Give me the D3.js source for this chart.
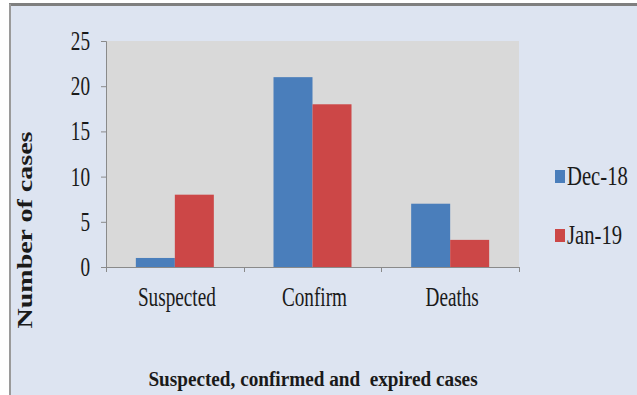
<!DOCTYPE html>
<html>
<head>
<meta charset="utf-8">
<script src="https://cdn.jsdelivr.net/npm/d3@7"></script>
<style>
  html, body { margin: 0; padding: 0; background: #ffffff; }
  svg { display: block; }
  text { font-family: "Liberation Serif", "Times New Roman", serif; fill: #1a1a1a; }
</style>
</head>
<body>
<svg id="chart" width="637" height="395"></svg>
<script>
// Case counts per category for the two months
const categories = ["Suspected", "Confirm", "Deaths"];
const seriesNames = ["Dec-18", "Jan-19"];
const dec18 = [1, 21, 7];
const jan19 = [8, 18, 3];
const yTicks = [0, 5, 10, 15, 20, 25];
const seriesColors = ["#4a7ebb", "#cc4747"];

const svg = d3.select("#chart");
const W = 637, H = 395;

// Chart frame: light panel with a dark top rule and a grey left rule
svg.append("rect").attr("x", 10).attr("y", 4).attr("width", W - 10).attr("height", H - 4)
  .attr("fill", "#dde4f1");
svg.append("line").attr("x1", 9).attr("x2", W).attr("y1", 4.5).attr("y2", 4.5)
  .attr("stroke", "#7f7f7f").attr("stroke-width", 3);
svg.append("line").attr("x1", 10).attr("x2", 10).attr("y1", 4).attr("y2", H)
  .attr("stroke", "#9a9a9a").attr("stroke-width", 2);

const plot = { left: 106, right: 519, top: 41, bottom: 267 };

const x0 = d3.scaleBand().domain(categories).range([plot.left, plot.right]).padding(0);
const x1 = d3.scaleBand().domain(seriesNames).range([0, x0.bandwidth()])
  .paddingInner(0).paddingOuter(0.765);
const y = d3.scaleLinear().domain([0, 25]).range([plot.bottom, plot.top]);

// Plot area
svg.append("rect").attr("x", plot.left).attr("y", plot.top)
  .attr("width", plot.right - plot.left).attr("height", plot.bottom - plot.top)
  .attr("fill", "#d9d9d9");

// Bars
const rows = categories.map((c, i) => ({ cat: c, vals: [dec18[i], jan19[i]] }));
const groups = svg.append("g").selectAll("g").data(rows).join("g")
  .attr("transform", d => `translate(${x0(d.cat)},0)`);
groups.selectAll("rect")
  .data(d => d.vals.map((v, k) => ({ name: seriesNames[k], v, k })))
  .join("rect")
  .attr("x", d => x1(d.name))
  .attr("width", x1.bandwidth())
  .attr("y", d => y(d.v))
  .attr("height", d => y(0) - y(d.v))
  .attr("fill", d => seriesColors[d.k]);

const axisColor = "#8a8a8a";

// Y axis
const yAxis = svg.append("g").attr("transform", `translate(${plot.left},0)`)
  .call(d3.axisLeft(y).tickValues(yTicks).tickSize(5).tickFormat(""));
yAxis.select(".domain").attr("stroke", axisColor);
yAxis.selectAll(".tick line").attr("stroke", axisColor);

const tickFont = 26.5, tickSqueeze = 0.725;
svg.append("g").selectAll("text").data(yTicks).join("text")
  .attr("transform", d => `translate(90,${y(d) + 9}) scale(${tickSqueeze},1)`)
  .attr("text-anchor", "end")
  .style("font-size", tickFont + "px")
  .text(d => d);

// X axis
const xAxis = svg.append("g").attr("transform", `translate(0,${plot.bottom})`)
  .call(d3.axisBottom(x0).tickSize(0).tickFormat(""));
xAxis.select(".domain").attr("stroke", axisColor).attr("d", `M${plot.left - 4},0.5H${plot.right}`);
const boundaries = categories.map(c => x0(c)).concat([plot.right]);
svg.append("g").selectAll("line").data(boundaries).join("line")
  .attr("x1", d => Math.round(d) + 0.5).attr("x2", d => Math.round(d) + 0.5)
  .attr("y1", plot.bottom).attr("y2", plot.bottom + 5)
  .attr("stroke", axisColor);

svg.append("g").selectAll("text").data(categories).join("text")
  .attr("transform", d => `translate(${x0(d) + x0.bandwidth() / 2 + 2},306) scale(${tickSqueeze},1)`)
  .attr("text-anchor", "middle")
  .style("font-size", tickFont + "px")
  .text(d => d);

// Legend
const legend = svg.append("g").selectAll("g").data(seriesNames).join("g")
  .attr("transform", (d, i) => `translate(555,${i === 0 ? 170 : 229})`);
legend.append("rect").attr("x", 0).attr("y", 0).attr("width", 10).attr("height", 13)
  .attr("fill", (d, i) => seriesColors[i]);
legend.append("text")
  .attr("transform", `translate(12,15) scale(0.78,1)`)
  .style("font-size", tickFont + "px")
  .text(d => d);

// Axis titles
svg.append("text")
  .attr("transform", "translate(32,230) scale(0.76,1) rotate(-90)")
  .attr("text-anchor", "middle")
  .style("font-size", "28px").style("font-weight", "bold")
  .text("Number of cases");

svg.append("text")
  .attr("transform", "translate(313,386) scale(0.915,1)")
  .attr("text-anchor", "middle")
  .style("font-size", "21px").style("font-weight", "bold")
  .text("Suspected, confirmed and  expired cases")
  .attr("xml:space", "preserve")
  .style("white-space", "pre");
</script>
</body>
</html>
